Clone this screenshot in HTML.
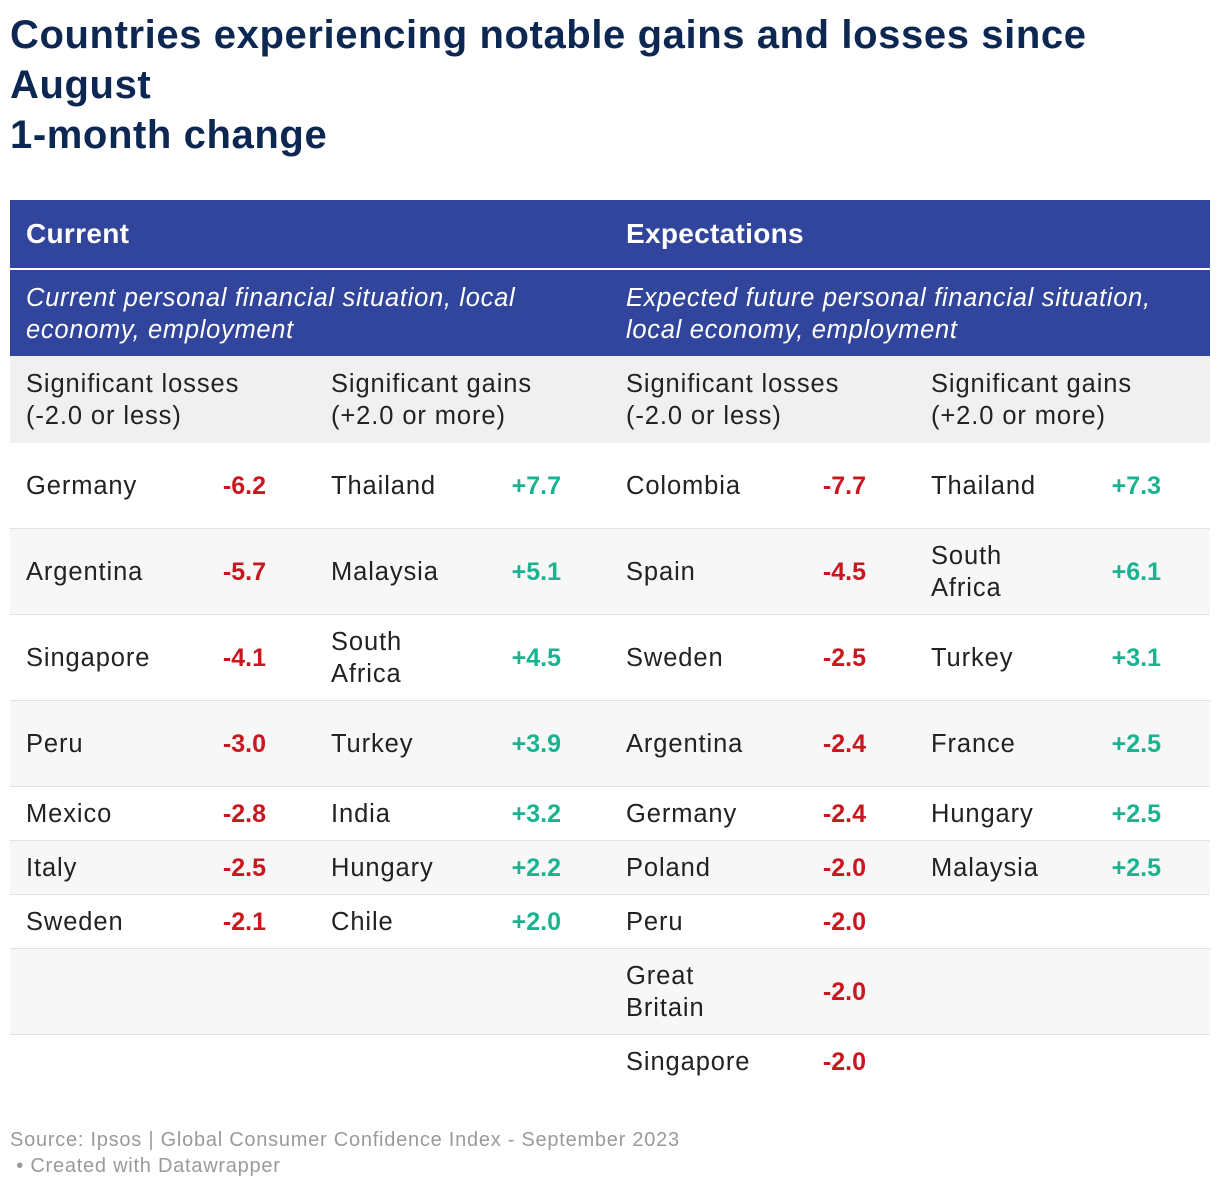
<!DOCTYPE html>
<html><head><meta charset="utf-8"><style>
body{margin:0;width:1220px;height:1190px;background:#fff;font-family:"Liberation Sans",sans-serif;position:relative;overflow:hidden}
.t{position:absolute;left:10px;top:10px;font-size:40px;line-height:50px;font-weight:bold;color:#0c2752;letter-spacing:0.6px}
.band{position:absolute;left:10px;width:1200px}
.c{position:absolute;font-size:25.5px;line-height:32px;color:#222;letter-spacing:0.9px;white-space:nowrap}
.v{position:absolute;font-size:25px;line-height:32px;font-weight:bold;text-align:right;width:120px}
.r{color:#c8171e}.g{color:#18b390}
.row{position:absolute;left:10px;width:1200px;border-bottom:1px solid #e2e2e2}
.foot{position:absolute;left:10px;font-size:20px;color:#9a9a9a;line-height:26px;letter-spacing:0.75px}
.hd{position:absolute;top:18px;color:#fff;font-weight:bold;font-size:28px;letter-spacing:0.3px}
.sub{position:absolute;top:12px;color:#fff;font-style:italic;font-size:25.5px;line-height:32px;letter-spacing:0.7px;white-space:nowrap}
</style></head><body>
<div class="t">Countries experiencing notable gains and losses since<br>August<br>1-month change</div>
<div class="band" style="top:200px;height:68px;background:#30459b">
<div class="hd" style="left:16px">Current</div>
<div class="hd" style="left:616px">Expectations</div>
</div>
<div class="band" style="top:270px;height:86px;background:#30459b">
<div class="sub" style="left:16px">Current personal financial situation, local<br>economy, employment</div>
<div class="sub" style="left:616px">Expected future personal financial situation,<br>local economy, employment</div>
</div>
<div class="band" style="top:356px;height:87px;background:#f0f0f0">
<div class="c" style="left:16px;top:12px">Significant losses<br>(-2.0 or less)</div>
<div class="c" style="left:321px;top:12px">Significant gains<br>(+2.0 or more)</div>
<div class="c" style="left:616px;top:12px">Significant losses<br>(-2.0 or less)</div>
<div class="c" style="left:921px;top:12px">Significant gains<br>(+2.0 or more)</div>
</div>
<div id="rows"></div>
<div class="foot" style="top:1127px">Source: Ipsos | Global Consumer Confidence Index - September 2023</div>
<div class="foot" style="top:1153px">&nbsp;• Created with Datawrapper</div>
<script>
const rows=[
[["Germany","-6.2"],["Thailand","+7.7"],["Colombia","-7.7"],["Thailand","+7.3"],86],
[["Argentina","-5.7"],["Malaysia","+5.1"],["Spain","-4.5"],["South<br>Africa","+6.1"],86],
[["Singapore","-4.1"],["South<br>Africa","+4.5"],["Sweden","-2.5"],["Turkey","+3.1"],86],
[["Peru","-3.0"],["Turkey","+3.9"],["Argentina","-2.4"],["France","+2.5"],86],
[["Mexico","-2.8"],["India","+3.2"],["Germany","-2.4"],["Hungary","+2.5"],54],
[["Italy","-2.5"],["Hungary","+2.2"],["Poland","-2.0"],["Malaysia","+2.5"],54],
[["Sweden","-2.1"],["Chile","+2.0"],["Peru","-2.0"],null,54],
[null,null,["Great<br>Britain","-2.0"],null,86],
[null,null,["Singapore","-2.0"],null,54]];
const xs=[16,321,616,921], vr=[256,551,856,1151];
let y=443;const host=document.getElementById('rows');
rows.forEach((r,i)=>{
 const h=r[4];const d=document.createElement('div');
 d.className='row';d.style.top=y+'px';d.style.height=(h-1)+'px';
 d.style.background=i%2?'#f7f7f7':'#fff';
 if(i==rows.length-1)d.style.borderBottom='none';
 
 
 for(let k=0;k<4;k++){const cell=r[k];if(!cell)continue;
  const two=cell[0].includes('<br>');
  const n=document.createElement('div');n.className='c';n.innerHTML=cell[0];
  n.style.left=xs[k]+'px';n.style.top=((h-(two?64:32))/2)+'px';
  
  
  const v=document.createElement('div');v.className='v '+(k%2?'g':'r');v.textContent=cell[1];
  v.style.left=(vr[k]-120)+'px';v.style.top=((h-32)/2)+'px';
  
  
  d.appendChild(n);d.appendChild(v);}
 host.appendChild(d);y+=h;});
</script>
</body></html>
